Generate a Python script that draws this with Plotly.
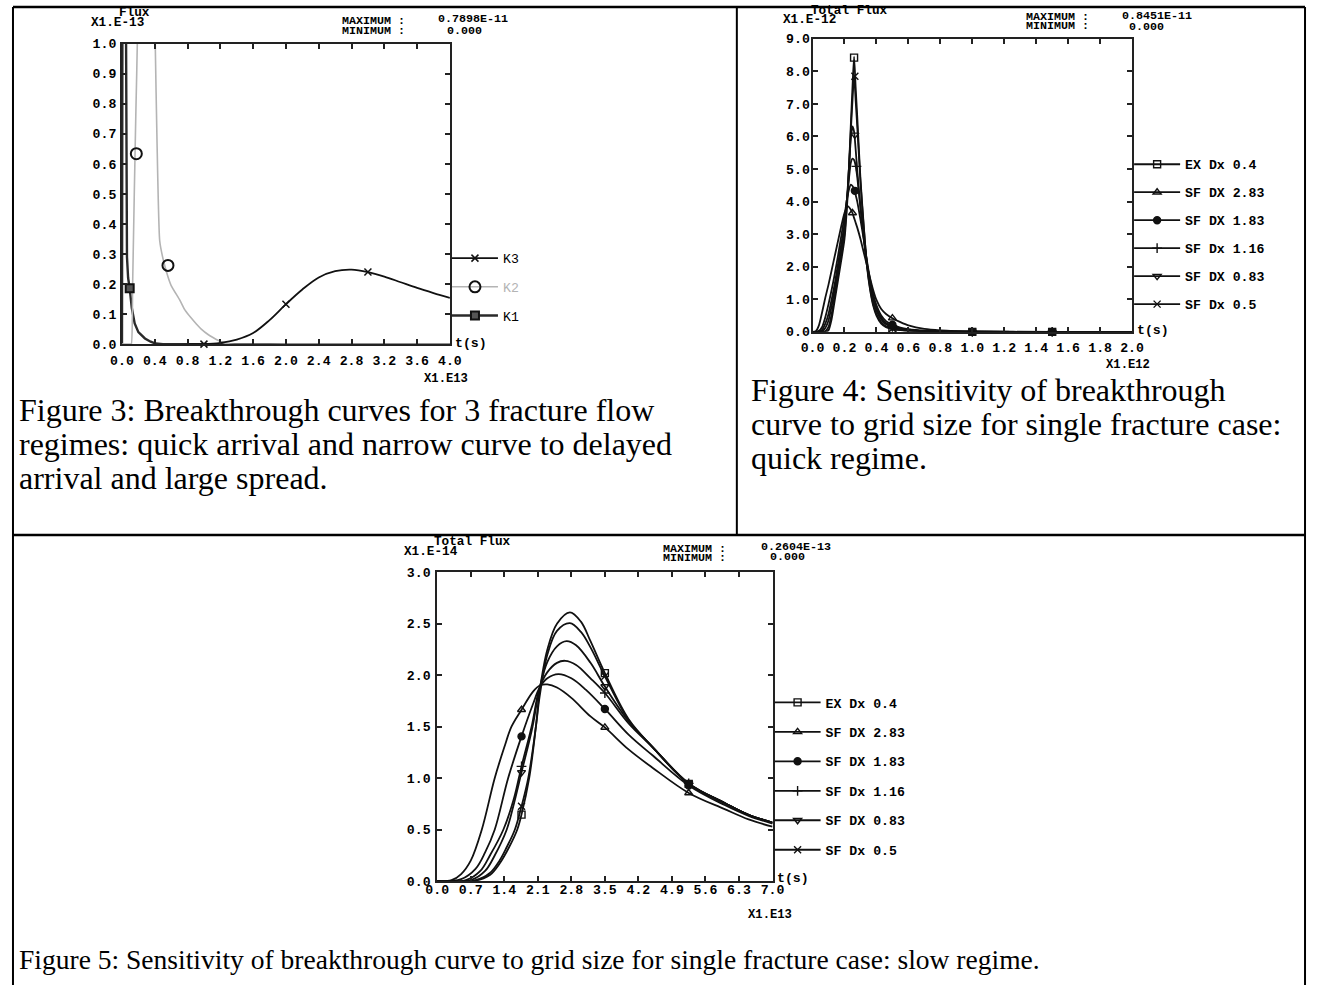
import plotly.graph_objects as go

W, H = 1318, 995
MONO = "Liberation Mono"
SERIF = "Liberation Serif"

# ---------------- Figure 3 data (x in 1E13 s, flux in 1E-13) ----------------
k1_x = [0.0, 0.005, 0.015, 0.025, 0.035, 0.045, 0.05, 0.055, 0.061, 0.075, 0.094, 0.12, 0.155, 0.2, 0.28, 0.35, 0.41, 0.5, 1.0, 4.0]
k1_y = [0.0, 1.0, 40.0, 79.0, 30.0, 3.0, 1.0, 0.6, 0.29, 0.22, 0.186, 0.12, 0.069, 0.04, 0.019, 0.008, 0.002, 0.0, 0.0, 0.0]
k2_x = [0.0, 0.1, 0.114, 0.13, 0.15, 0.17, 0.187, 0.21, 0.26, 0.32, 0.37, 0.395, 0.406, 0.427, 0.46, 0.5, 0.56, 0.6,
        0.707, 0.765, 0.85, 0.91, 0.967, 1.05, 1.11, 1.17, 1.24, 1.32, 2.0, 4.0]
k2_y = [0.0, 0.0, 0.0, 0.2, 0.5, 0.78, 1.0, 1.8, 3.5, 3.0, 1.8, 1.2, 1.0, 0.68, 0.345, 0.285, 0.225, 0.195,
        0.146, 0.115, 0.085, 0.066, 0.05, 0.032, 0.022, 0.013, 0.005, 0.0, 0.0, 0.0]
k3_x = [0.8, 1.0, 1.2, 1.4, 1.6, 1.8, 2.0, 2.2, 2.4, 2.6, 2.8, 3.0, 3.2, 3.4, 3.6, 3.8, 4.0]
k3_y = [0.0, 0.0, 0.004, 0.015, 0.037, 0.08, 0.133, 0.182, 0.222, 0.243, 0.248, 0.24, 0.225, 0.206, 0.187, 0.17, 0.154]
k1_mx, k1_my = [0.094], [0.186]
k2_mx, k2_my = [0.175, 0.561], [0.634, 0.262]
k3_mx, k3_my = [1.0, 2.0, 3.0], [0.0, 0.133, 0.24]

# ---------------- Figure 4 data (x in 1E12 s, flux in 1E-12) ----------------
f4_x = [0, 0.02, 0.04, 0.06, 0.08, 0.1, 0.12, 0.14, 0.16, 0.18, 0.2, 0.22, 0.24, 0.25, 0.26, 0.27, 0.28, 0.3,
        0.32, 0.34, 0.36, 0.38, 0.4, 0.43, 0.46, 0.5, 0.55, 0.6, 0.7, 0.8, 1.0, 1.5, 2.0]
f4_ex = [0, 0, 0, 0, 0, 0.05, 0.4, 1.0, 1.6, 2.2, 2.85, 4.2, 6.4, 7.5, 8.45, 7.5, 6.6, 4.7,
         3.3, 2.05, 1.3, 0.8, 0.5, 0.25, 0.14, 0.08, 0.05, 0.03, 0.015, 0.01, 0, 0, 0]
f4_d05 = [0, 0, 0, 0, 0.02, 0.15, 0.55, 1.15, 1.75, 2.35, 3.0, 4.3, 6.2, 7.1, 7.87, 7.1, 6.3, 4.6,
          3.25, 2.1, 1.35, 0.85, 0.55, 0.3, 0.17, 0.1, 0.06, 0.035, 0.018, 0.01, 0, 0, 0]
f4_d083 = [0, 0, 0, 0.02, 0.12, 0.35, 0.8, 1.35, 1.95, 2.55, 3.2, 4.4, 5.95, 6.31, 6.15, 5.6, 4.95, 3.85,
           2.9, 2.1, 1.45, 0.97, 0.65, 0.38, 0.23, 0.14, 0.085, 0.055, 0.025, 0.012, 0.003, 0, 0]
f4_d116 = [0, 0, 0.01, 0.06, 0.25, 0.55, 1.0, 1.5, 2.1, 2.7, 3.3, 4.3, 5.2, 5.32, 5.28, 5.1, 4.75, 3.8,
           2.95, 2.15, 1.55, 1.05, 0.72, 0.43, 0.27, 0.17, 0.1, 0.065, 0.03, 0.015, 0.004, 0, 0]
f4_d183 = [0, 0, 0.03, 0.15, 0.45, 0.85, 1.3, 1.8, 2.35, 2.95, 3.55, 4.2, 4.52, 4.48, 4.38, 4.2, 4.0, 3.45,
           2.85, 2.2, 1.62, 1.15, 0.82, 0.5, 0.33, 0.22, 0.13, 0.085, 0.04, 0.02, 0.005, 0, 0]
f4_d283 = [0, 0.02, 0.2, 0.6, 1.05, 1.45, 1.9, 2.35, 2.8, 3.25, 3.65, 3.86, 3.75, 3.65, 3.5, 3.35, 3.2, 2.85,
           2.45, 2.05, 1.65, 1.28, 0.98, 0.7, 0.55, 0.42, 0.3, 0.2, 0.09, 0.045, 0.01, 0, 0]
f4_mk_x = {"ex": [0.26, 0.5, 1.0, 1.5], "d283": [0.25, 0.5, 1.0, 1.5], "d183": [0.265, 0.5, 1.0, 1.5],
           "d116": [0.275, 0.5, 1.0, 1.5], "d083": [0.265, 0.5, 1.0, 1.5], "d05": [0.265, 0.5, 1.0, 1.5]}
f4_mk_y = {"ex": [8.42, 0.08, 0.0, 0.0], "d283": [3.65, 0.42, 0.0, 0.0], "d183": [4.33, 0.22, 0.0, 0.0],
           "d116": [5.08, 0.17, 0.0, 0.0], "d083": [6.05, 0.14, 0.0, 0.0], "d05": [7.85, 0.1, 0.0, 0.0]}

# ---------------- Figure 5 data (x in 1E13 s, flux in 1E-14) ----------------
f5_ex_x = [0, 0.8, 1.1, 1.3, 1.5, 1.67, 1.76, 1.92, 2.06, 2.14, 2.3, 2.5, 2.77, 3.0, 3.2, 3.5, 4.0, 4.5, 5.25, 6.0, 6.5, 7.0]
f5_ex_y = [0, 0.005, 0.06, 0.17, 0.33, 0.5, 0.647, 1.0, 1.5, 1.85, 2.25, 2.5, 2.61, 2.52, 2.33, 2.02, 1.57, 1.3, 0.945, 0.76, 0.645, 0.57]
f5_d05_x = [0, 0.8, 1.1, 1.3, 1.45, 1.62, 1.76, 1.9, 2.06, 2.14, 2.3, 2.5, 2.77, 3.0, 3.2, 3.5, 4.0, 4.5, 5.25, 6.0, 6.5, 7.0]
f5_d05_y = [0, 0.01, 0.08, 0.2, 0.33, 0.5, 0.727, 1.0, 1.5, 1.8, 2.2, 2.43, 2.505, 2.42, 2.27, 1.99, 1.56, 1.3, 0.945, 0.76, 0.645, 0.57]
f5_d083_x = [0, 0.7, 1.0, 1.2, 1.45, 1.6, 1.76, 1.99, 2.14, 2.3, 2.5, 2.7, 2.9, 3.2, 3.5, 4.0, 4.5, 5.25, 6.0, 6.5, 7.0]
f5_d083_y = [0, 0.01, 0.1, 0.25, 0.5, 0.75, 1.057, 1.5, 1.88, 2.13, 2.28, 2.33, 2.29, 2.12, 1.89, 1.55, 1.3, 0.95, 0.76, 0.645, 0.57]
f5_d116_x = [0, 0.6, 0.9, 1.1, 1.38, 1.6, 1.76, 1.97, 2.14, 2.3, 2.5, 2.67, 2.9, 3.2, 3.5, 4.0, 4.5, 5.25, 6.0, 6.5, 7.0]
f5_d116_y = [0, 0.01, 0.1, 0.25, 0.5, 0.8, 1.115, 1.5, 1.88, 2.03, 2.12, 2.14, 2.1, 1.97, 1.827, 1.53, 1.3, 0.95, 0.76, 0.645, 0.57]
f5_d183_x = [0, 0.5, 0.8, 1.0, 1.2, 1.48, 1.76, 2.0, 2.14, 2.3, 2.53, 2.8, 3.1, 3.5, 4.0, 4.5, 5.25, 6.0, 6.5, 7.0]
f5_d183_y = [0, 0.02, 0.12, 0.28, 0.5, 1.0, 1.406, 1.72, 1.88, 1.97, 2.01, 1.97, 1.86, 1.672, 1.42, 1.22, 0.93, 0.74, 0.635, 0.56]
f5_d283_x = [0, 0.3, 0.5, 0.7, 0.93, 1.2, 1.4, 1.55, 1.76, 2.0, 2.14, 2.3, 2.5, 2.8, 3.2, 3.5, 4.0, 4.5, 5.25, 6.0, 6.5, 7.0]
f5_d283_y = [0, 0.01, 0.07, 0.2, 0.5, 1.0, 1.3, 1.5, 1.665, 1.84, 1.9, 1.91, 1.88, 1.78, 1.6, 1.493, 1.277, 1.1, 0.857, 0.7, 0.6, 0.53]
f5_mk_x = [1.76, 3.5, 5.25]
f5_mk_y = {"ex": [0.647, 2.02, 0.945], "d283": [1.665, 1.493, 0.857], "d183": [1.406, 1.672, 0.93],
           "d116": [1.115, 1.827, 0.95], "d083": [1.057, 1.89, 0.95], "d05": [0.727, 1.99, 0.945]}

series_names = {"ex": "EX Dx 0.4", "d283": "SF DX 2.83", "d183": "SF DX 1.83",
                "d116": "SF Dx 1.16", "d083": "SF DX 0.83", "d05": "SF Dx 0.5"}
series_symbols = {"ex": "square-open", "d283": "triangle-up-open", "d183": "circle",
                  "d116": "cross-thin-open", "d083": "triangle-down-open", "d05": "x-thin-open"}
series_order = ["ex", "d283", "d183", "d116", "d083", "d05"]

# ---------------- layout geometry (target pixels, compensated for viewer framing) ----------------
SX, OX = 0.982, 12.0
SY, OY = 0.986, 5.5
FS = 0.984


def tx(x):
    return (x - OX) / SX


def ty(y):
    return (y - OY) / SY


def f(s):
    return s / FS


P3 = dict(l=122, r=450, t=43.3, b=344)
P4 = dict(l=812.7, r=1132.3, t=38.3, b=331.7)
P5 = dict(l=437.3, r=772.7, t=572.3, b=881.7)


def dom(p):
    return [tx(p["l"]) / W, tx(p["r"]) / W], [1 - ty(p["b"]) / H, 1 - ty(p["t"]) / H]


fig = go.Figure()
INK = "#111111"


def marker_style(sym, size=7, fill=None):
    return dict(symbol=sym, size=size, color=fill if fill else INK, line=dict(color=INK, width=1.4))


# Figure 3 traces
fig.add_trace(go.Scatter(x=k1_x, y=k1_y, mode="lines", line=dict(color="#2a2a2a", width=2.4),
                         xaxis="x", yaxis="y", showlegend=False))
fig.add_trace(go.Scatter(x=k2_x, y=k2_y, mode="lines",
                         line=dict(color="#b4b4b4", width=1.6, shape="spline", smoothing=0.5),
                         xaxis="x", yaxis="y", showlegend=False))
fig.add_trace(go.Scatter(x=k3_x, y=k3_y, mode="lines", line=dict(color=INK, width=1.8, shape="spline"),
                         xaxis="x", yaxis="y", showlegend=False))
fig.add_trace(go.Scatter(x=k1_mx, y=k1_my, mode="markers", marker=dict(symbol="square", size=8, color="#555",
                         line=dict(color=INK, width=2)), xaxis="x", yaxis="y", showlegend=False))
fig.add_trace(go.Scatter(x=k2_mx, y=k2_my, mode="markers", marker=dict(symbol="circle-open", size=11, color=INK,
                         line=dict(color=INK, width=2)), xaxis="x", yaxis="y", showlegend=False))
fig.add_trace(go.Scatter(x=k3_mx, y=k3_my, mode="markers", marker=dict(symbol="x-thin-open", size=7, color=INK,
                         line=dict(color=INK, width=1.5)), xaxis="x", yaxis="y", showlegend=False,
                         cliponaxis=False))
# Figure 3 legend entries
fig.add_trace(go.Scatter(x=[None], y=[None], mode="lines+markers", name="K3", legend="legend",
                         line=dict(color=INK, width=1.8),
                         marker=dict(symbol="x-thin-open", size=7, color=INK, line=dict(color=INK, width=1.5)),
                         legendgroup="k3", xaxis="x", yaxis="y"))
fig.add_trace(go.Scatter(x=[None], y=[None], mode="lines+markers",
                         name="<span style='color:#b4b4b4'>K2</span>", legend="legend",
                         line=dict(color="#b4b4b4", width=1.6),
                         marker=dict(symbol="circle-open", size=11, color=INK, line=dict(color=INK, width=2)),
                         legendgroup="k2", xaxis="x", yaxis="y"))
fig.add_trace(go.Scatter(x=[None], y=[None], mode="lines+markers", name="K1", legend="legend",
                         line=dict(color="#2a2a2a", width=2.4),
                         marker=dict(symbol="square", size=8, color="#555", line=dict(color=INK, width=2)),
                         legendgroup="k1", xaxis="x", yaxis="y"))

# Figure 4 traces
f4_y = {"ex": f4_ex, "d283": f4_d283, "d183": f4_d183, "d116": f4_d116, "d083": f4_d083, "d05": f4_d05}
for key in series_order:
    fig.add_trace(go.Scatter(x=f4_x, y=f4_y[key], mode="lines",
                             line=dict(color=INK, width=1.8, shape="spline", smoothing=0.6),
                             xaxis="x2", yaxis="y2", showlegend=False))
for key in series_order:
    fig.add_trace(go.Scatter(x=f4_mk_x[key], y=f4_mk_y[key], mode="markers",
                             marker=marker_style(series_symbols[key], 7, fill=INK if key == "d183" else None),
                             xaxis="x2", yaxis="y2", showlegend=False, cliponaxis=False))
for key in series_order:
    fig.add_trace(go.Scatter(x=[None], y=[None], mode="lines+markers", name=series_names[key],
                             legend="legend2", legendgroup="f4" + key,
                             line=dict(color=INK, width=1.8),
                             marker=marker_style(series_symbols[key], 7, fill=INK if key == "d183" else None),
                             xaxis="x2", yaxis="y2"))

# Figure 5 traces
f5_xy = {"ex": (f5_ex_x, f5_ex_y), "d283": (f5_d283_x, f5_d283_y), "d183": (f5_d183_x, f5_d183_y),
         "d116": (f5_d116_x, f5_d116_y), "d083": (f5_d083_x, f5_d083_y), "d05": (f5_d05_x, f5_d05_y)}
for key in series_order:
    xs, ys = f5_xy[key]
    fig.add_trace(go.Scatter(x=xs, y=ys, mode="lines",
                             line=dict(color=INK, width=1.8, shape="spline", smoothing=1.0),
                             xaxis="x3", yaxis="y3", showlegend=False))
for key in series_order:
    fig.add_trace(go.Scatter(x=f5_mk_x, y=f5_mk_y[key], mode="markers",
                             marker=marker_style(series_symbols[key], 7, fill=INK if key == "d183" else None),
                             xaxis="x3", yaxis="y3", showlegend=False))
for key in series_order:
    fig.add_trace(go.Scatter(x=[None], y=[None], mode="lines+markers", name=series_names[key],
                             legend="legend3", legendgroup="f5" + key,
                             line=dict(color=INK, width=1.8),
                             marker=marker_style(series_symbols[key], 7, fill=INK if key == "d183" else None),
                             xaxis="x3", yaxis="y3"))


def axis(domain, rng, dtick, anchor, standoff):
    return dict(domain=domain, range=rng, dtick=dtick, tick0=0, tickformat=".1f", anchor=anchor,
                showgrid=False, zeroline=False, showline=True, linecolor="#222", linewidth=2,
                mirror="ticks", ticks="inside", ticklen=5, tickwidth=1.5, tickcolor="#222",
                tickfont=dict(family=MONO, size=f(13), color="black", weight="bold"),
                ticklabelstandoff=standoff, fixedrange=True)


d3x, d3y = dom(P3)
d4x, d4y = dom(P4)
d5x, d5y = dom(P5)

ann = []


def txt(px, py, s, size=13, anchor="left", family=MONO, weight="bold", color="black"):
    ann.append(dict(x=tx(px) / W, y=1 - ty(py) / H, xref="paper", yref="paper", text=s, showarrow=False,
                    xanchor=anchor, yanchor="middle", borderpad=0,
                    font=dict(family=family, size=f(size), color=color, weight=weight)))


HS = 11.5
TS = 12.5
# Figure 3 labels
txt(118, 12.5, "Flux", size=TS)
txt(90, 22.5, "X1.E-13", size=TS)
txt(341, 21, "MAXIMUM :", size=HS)
txt(341, 30.5, "MINIMUM :", size=HS)
txt(437, 19, "0.7898E-11", size=HS)
txt(446, 30.5, "0.000", size=HS)
txt(454, 343, "t(s)")
txt(469, 379, "X1.E13", anchor="right", size=12)
# Figure 4 labels
txt(810, 10, "Total Flux", size=TS)
txt(782, 19.5, "X1.E-12", size=TS)
txt(1025, 16.5, "MAXIMUM :", size=HS)
txt(1025, 26, "MINIMUM :", size=HS)
txt(1121, 15.5, "0.8451E-11", size=HS)
txt(1128, 26.5, "0.000", size=HS)
txt(1136, 330, "t(s)")
txt(1151, 365, "X1.E12", anchor="right", size=12)
# Figure 5 labels
txt(433, 542, "Total Flux", size=TS)
txt(403, 552, "X1.E-14", size=TS)
txt(662, 549, "MAXIMUM :", size=HS)
txt(662, 558.5, "MINIMUM :", size=HS)
txt(760, 547, "0.2604E-13", size=HS)
txt(769, 557.5, "0.000", size=HS)
txt(776, 879, "t(s)")
txt(793, 915, "X1.E13", anchor="right", size=12)

# captions
CAP = 31.5
CAP5 = 27.1
txt(18, 410, "Figure 3: Breakthrough curves for 3 fracture flow", size=CAP, family=SERIF, weight="normal")
txt(18, 444, "regimes: quick arrival and narrow curve to delayed", size=CAP, family=SERIF, weight="normal")
txt(18, 478, "arrival and large spread.", size=CAP, family=SERIF, weight="normal")
txt(750, 390, "Figure 4: Sensitivity of breakthrough", size=CAP, family=SERIF, weight="normal")
txt(750, 424, "curve to grid size for single fracture case:", size=CAP, family=SERIF, weight="normal")
txt(750, 458, "quick regime.", size=CAP, family=SERIF, weight="normal")
txt(18, 960, "Figure 5: Sensitivity of breakthrough curve to grid size for single fracture case: slow regime.",
    size=CAP5, family=SERIF, weight="normal")

# table borders
shapes = []


def clampx(x):
    return min(max(tx(x), 1), W - 1)


def clampy(y):
    return min(max(ty(y), 1), H - 1)


def hline(py, x0, x1, w):
    shapes.append(dict(type="line", xref="paper", yref="paper", x0=clampx(x0) / W, x1=clampx(x1) / W,
                       y0=1 - clampy(py) / H, y1=1 - clampy(py) / H, line=dict(color="black", width=w)))


def vline(px, y0, y1, w):
    shapes.append(dict(type="line", xref="paper", yref="paper", x0=clampx(px) / W, x1=clampx(px) / W,
                       y0=1 - clampy(y0) / H, y1=1 - clampy(y1) / H, line=dict(color="black", width=w)))


hline(2.5, 0, W, 2.5)
hline(535, 0, W, 2.5)
vline(2, 0, H, 2)
vline(1316, 0, H, 2)
vline(737, 0, 535, 2)

LEG_OFF = 15.4


def leg(axis_right, first_center, gap, weight):
    return dict(x=(tx(axis_right) - 3) / W, y=1 - (ty(first_center) - LEG_OFF) / H, xanchor="left",
                yanchor="top", bgcolor="rgba(0,0,0,0)", borderwidth=0, tracegroupgap=gap, itemwidth=46,
                font=dict(family=MONO, size=f(13), color="black", weight=weight), traceorder="grouped")


fig.update_layout(
    width=W, height=H, margin=dict(l=0, r=0, t=0, b=0),
    paper_bgcolor="white", plot_bgcolor="white",
    xaxis=axis(d3x, [0, 4.0], 0.4, "y", 3),
    yaxis=axis(d3y, [0, 1.0], 0.1, "x", 1),
    xaxis2=axis(d4x, [0, 2.0], 0.2, "y2", 2),
    yaxis2=axis(d4y, [0, 9.0], 1.0, "x2", -2),
    xaxis3=axis(d5x, [0, 7.0], 0.7, "y3", -5),
    yaxis3=axis(d5y, [0, 3.0], 0.5, "x3", 2),
    legend=leg(P3["r"], 258, 8.5, "normal"),
    legend2=leg(P4["r"], 164, 7.8, "bold"),
    legend3=leg(P5["r"], 702.7, 9.3, "bold"),
    annotations=ann, shapes=shapes, showlegend=True,
)

fig.write_html("out.html", config={"displayModeBar": False},
               post_script="document.body.style.margin='0px';document.body.style.padding='0px';"
                           "document.documentElement.style.overflow='hidden';")
